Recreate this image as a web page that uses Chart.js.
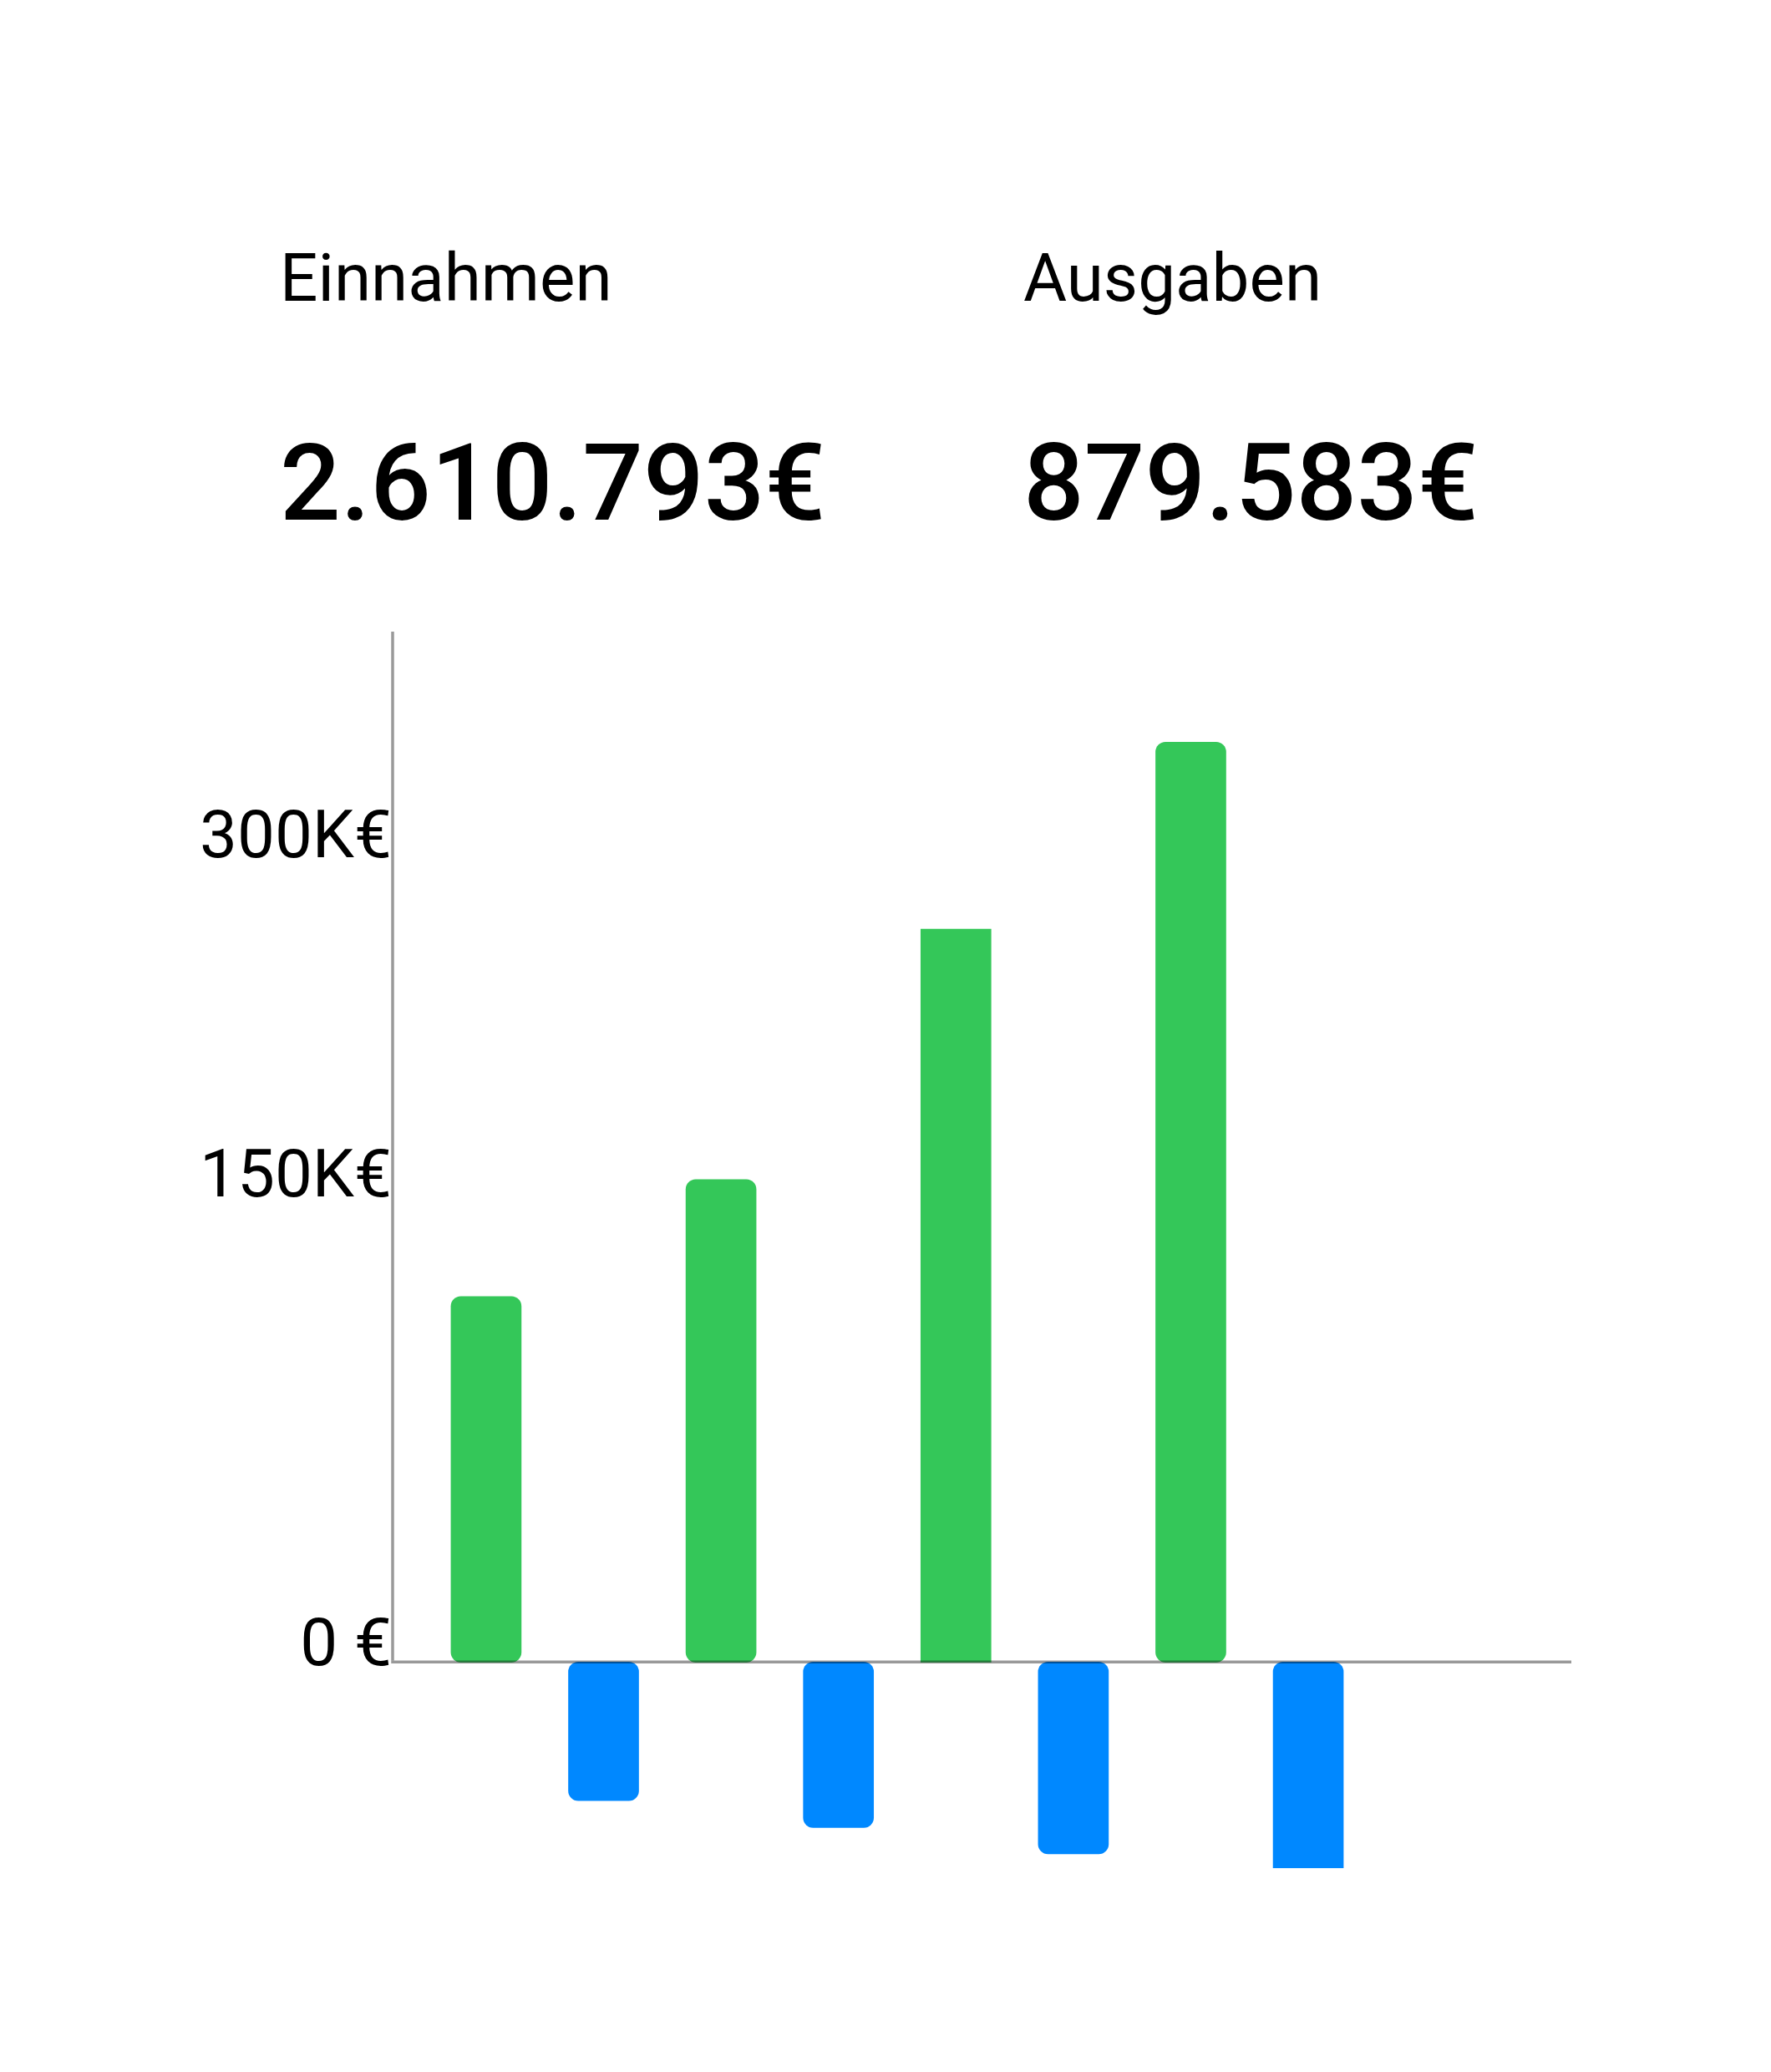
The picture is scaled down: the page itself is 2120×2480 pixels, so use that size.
<!DOCTYPE html>
<html>
<head>
<meta charset="utf-8">
<script src="https://cdn.jsdelivr.net/npm/chart.js@4.4.1/dist/chart.umd.min.js"></script>
<style>
  html, body { margin: 0; padding: 0; background: #ffffff; }
  #wrap { position: relative; width: 2120px; height: 2480px; }
</style>
</head>
<body>
<div id="wrap"><canvas id="c"></canvas></div>
<script>
// ---- data ----
const periods = [1, 2, 3, 4];
const einnahmen = [133000, 175600, 266700, 334800];
const ausgaben = [-50400, -60200, -69800, -80000];
const tickValues = [5100, 175600, 299100];
const tickLabels = ['0 €', '150K€', '300K€'];
const summaryLabels = ['Einnahmen', 'Ausgaben'];
const summaryTotals = [2610793, 879583];

function formatEuro(n) {
  const s = String(Math.round(n));
  return s.replace(/\B(?=(\d{3})+(?!\d))/g, '.') + '€';
}

const headerPlugin = {
  id: 'header',
  afterDraw(chart) {
    const ctx = chart.ctx;
    const cols = [335, 1225];
    ctx.save();
    ctx.fillStyle = '#000000';
    ctx.textBaseline = 'alphabetic';
    ctx.textAlign = 'left';
    summaryLabels.forEach((lab, i) => {
      ctx.font = '400 80px Roboto';
      ctx.fillText(lab, cols[i], 360);
      ctx.font = '500 128px Roboto';
      ctx.fillText(formatEuro(summaryTotals[i]), cols[i], 622);
    });
    ctx.restore();
  }
};

const axisLinesPlugin = {
  id: 'axisLines',
  afterDatasetsDraw(chart) {
    const ctx = chart.ctx;
    const area = chart.chartArea;
    const y0 = chart.scales.y.getPixelForValue(0);
    ctx.save();
    ctx.strokeStyle = 'rgba(0,0,0,0.4)';
    ctx.lineWidth = 3.5;
    ctx.beginPath();
    ctx.moveTo(area.left, area.top);
    ctx.lineTo(area.left, y0 - 1.75);
    ctx.stroke();
    ctx.beginPath();
    ctx.moveTo(area.left - 1.75, y0);
    ctx.lineTo(area.right, y0);
    ctx.stroke();
    ctx.restore();
  }
};

// each period occupies two slots on the x axis: income, then expenses
new Chart(document.getElementById('c'), {
  type: 'bar',
  data: {
    datasets: [
      {
        label: 'Einnahmen',
        data: periods.map((p, i) => ({ x: 2 * p - 1, y: einnahmen[i] })),
        backgroundColor: '#34C759',
        borderSkipped: false,
        borderRadius: (ctx) => ctx.dataIndex === 2 ? 0 : 12,
        clip: 0
      },
      {
        label: 'Ausgaben',
        data: periods.map((p, i) => ({ x: 2 * p, y: ausgaben[i] })),
        backgroundColor: '#0088FF',
        borderSkipped: false,
        borderRadius: 12,
        clip: 0
      }
    ]
  },
  options: {
    responsive: true,
    maintainAspectRatio: false,
    devicePixelRatio: 1,
    animation: false,
    grouped: false,
    barThickness: 84,
    layout: { padding: { left: 0, top: 756, right: 239, bottom: 244 } },
    plugins: { legend: { display: false }, tooltip: { enabled: false }, title: { display: false } },
    scales: {
      x: {
        type: 'linear',
        display: false,
        offset: false,
        min: 0.204,
        max: 10.24,
        grid: { display: false }
      },
      y: {
        type: 'linear',
        min: -75000,
        max: 375000,
        afterBuildTicks(scale) {
          scale.ticks = tickValues.map(v => ({ value: v }));
        },
        afterFit(scale) { scale.width = 470; },
        border: { display: false },
        grid: { display: false, drawTicks: false },
        ticks: {
          padding: 1,
          color: '#000000',
          font: { family: 'Roboto', size: 80, weight: '400' },
          callback: (value, index) => tickLabels[index]
        }
      }
    }
  },
  plugins: [headerPlugin, axisLinesPlugin]
});
</script>
</body>
</html>
